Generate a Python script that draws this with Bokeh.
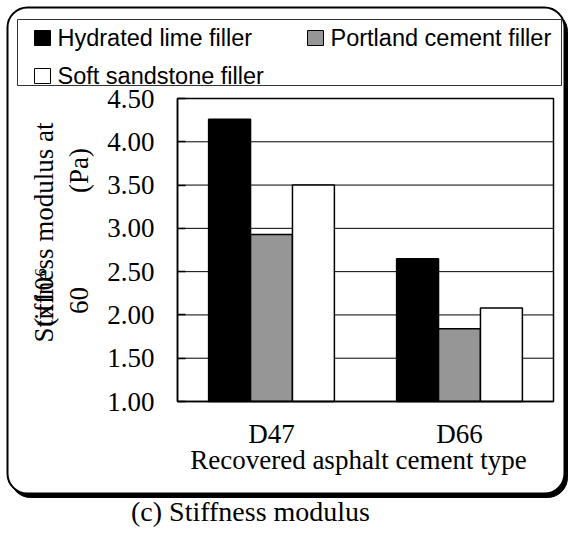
import math
from bokeh.plotting import figure
from bokeh.models import (ColumnDataSource, Range1d, FixedTicker, BoxAnnotation,
                          Label, NumeralTickFormatter)
from bokeh.transform import dodge
from bokeh.embed import file_html
from bokeh.resources import INLINE

# ---- data ----
categories = ["D47", "D66"]
series_names = ["Hydrated lime filler", "Portland cement filler", "Soft sandstone filler"]
hydrated_lime = [4.26, 2.65]
portland_cement = [2.93, 1.84]
soft_sandstone = [3.50, 2.08]
y_ticks = [1.0, 1.5, 2.0, 2.5, 3.0, 3.5, 4.0, 4.5]
x_title = "Recovered asphalt cement type"
caption = "(c) Stiffness modulus"
series_colors = ["#000000", "#969696", "#ffffff"]

SERIF = "Liberation Serif"
SANS = "Liberation Sans"

# ---- layout (pixels) ----
W, H = 568, 535
FL, FR, FT, FB = 177, 553, 98, 401          # plot-area edges
Y0, Y1 = y_ticks[0], y_ticks[-1]
NCAT = len(categories)
xppu = (FR - FL) / NCAT
yppu = (FB - FT) / (Y1 - Y0)
x_start = 0 - FL / xppu
x_end = NCAT + (W - FR) / xppu
y_start = Y0 - (H - FB) / yppu
y_end = Y1 + FT / yppu

xc = [i + 0.5 for i in range(NCAT)]
source = ColumnDataSource(dict(xc=xc, hl=hydrated_lime,
                               pc=portland_cement, ss=soft_sandstone))

p = figure(width=W, height=H, x_range=Range1d(x_start, x_end),
           y_range=Range1d(y_start, y_end), output_backend="svg",
           toolbar_location=None, min_border=0)
p.extra_x_ranges = {"px": Range1d(0, W)}
p.extra_y_ranges = {"px": Range1d(H, 0)}
p.background_fill_color = "white"
p.border_fill_color = "white"
p.outline_line_color = None
p.xgrid.visible = False
p.ygrid.visible = False


def pbox(l, t, r, b, **kw):
    return BoxAnnotation(left=l, right=r, top=t, bottom=b,
                         x_range_name="px", y_range_name="px", **kw)


# outer rounded frame with shadow (behind everything)
p.add_layout(pbox(10, 11, 567, 497, fill_color="black", fill_alpha=1.0,
                  line_color="black", line_width=1, line_alpha=1.0,
                  border_radius=20, level="image"))
p.add_layout(pbox(7, 7, 564, 493, fill_color="white", fill_alpha=1.0,
                  line_color="black", line_width=2, line_alpha=1.0,
                  border_radius=20, level="underlay"))

# horizontal grid lines
grid_vals = [t for t in y_ticks if Y0 < t < Y1]
p.segment(x0=0, x1=NCAT, y0=grid_vals, y1=grid_vals, line_color="black", line_width=1)

# bars
bw = 0.223
for col, off, color in zip(["hl", "pc", "ss"], [-bw, 0.0, bw], series_colors):
    p.vbar(x=dodge("xc", off), top=col, bottom=Y0, width=bw,
           source=source, fill_color=color, line_color="black", line_width=1.5)

# plot-area outline
p.add_layout(BoxAnnotation(left=0, right=NCAT, bottom=Y0, top=Y1, fill_color=None,
                           line_color="black", line_width=1.5, line_alpha=1.0))

# axes (fixed inside the canvas)
p.yaxis.fixed_location = 0
p.yaxis.bounds = (Y0, Y1)
p.yaxis.ticker = FixedTicker(ticks=y_ticks)
p.yaxis.formatter = NumeralTickFormatter(format="0.00")
p.yaxis.major_label_text_font = SERIF
p.yaxis.major_label_text_font_size = "27px"
p.yaxis.major_label_text_color = "black"
p.yaxis.major_tick_in = 8
p.yaxis.major_tick_out = 0
p.yaxis.major_tick_line_width = 1.5
p.yaxis.minor_tick_line_color = None
p.yaxis.major_label_standoff = 23
p.yaxis.axis_line_width = 1.5

p.xaxis.fixed_location = Y0
p.xaxis.bounds = (0, NCAT)
p.xaxis.ticker = FixedTicker(ticks=xc)
p.xaxis.major_label_overrides = {x: c for x, c in zip(xc, categories)}
p.xaxis.major_tick_in = 0
p.xaxis.major_tick_out = 0
p.xaxis.minor_tick_line_color = None
p.xaxis.major_label_standoff = 17
p.xaxis.major_label_text_font = SERIF
p.xaxis.major_label_text_font_size = "27px"
p.xaxis.major_label_text_color = "black"
p.xaxis.axis_line_width = 1.5

# legend
p.add_layout(pbox(17, 19, 561, 85, fill_color=None, line_color="#333333",
                  line_width=1, line_alpha=1.0))
legend_pos = [(34, 30, 57, 37.5), (307, 30, 330, 37.5), (34, 68, 57, 75.5)]
for name, color, (mx, my, tx, ty) in zip(series_names, series_colors, legend_pos):
    p.add_layout(pbox(mx, my, mx + 16, my + 15, fill_color=color, fill_alpha=1.0,
                      line_color="black", line_width=1, line_alpha=1.0))
    p.add_layout(Label(x=tx, y=ty, x_range_name="px", y_range_name="px", text=name,
                       text_font=SANS, text_font_size="23.5px", text_color="black",
                       text_align="left", text_baseline="middle"))

# y axis title (overlapping pieces as in the source)
ylab = dict(x_range_name="px", y_range_name="px", text_font=SERIF,
            text_font_size="27px", text_color="black", angle=math.pi / 2,
            text_baseline="middle")
p.add_layout(Label(x=43, y=232, text="Stiffness modulus at", text_align="center", **ylab))
p.add_layout(Label(x=43, y=326, text="(x10\u2076", text_align="left", **ylab))
p.add_layout(Label(x=78, y=170, text="(Pa)", text_align="center", **ylab))
p.add_layout(Label(x=78, y=300, text="60", text_align="center", **ylab))

# x axis title
p.add_layout(Label(x=358, y=459, x_range_name="px", y_range_name="px", text=x_title,
                   text_font=SERIF, text_font_size="27px", text_color="black",
                   text_align="center", text_baseline="middle"))
# caption
p.add_layout(Label(x=250, y=511, x_range_name="px", y_range_name="px", text=caption,
                   text_font=SERIF, text_font_size="28px", text_color="black",
                   text_align="center", text_baseline="middle"))

open("out.html", "w").write(file_html(p, INLINE))
